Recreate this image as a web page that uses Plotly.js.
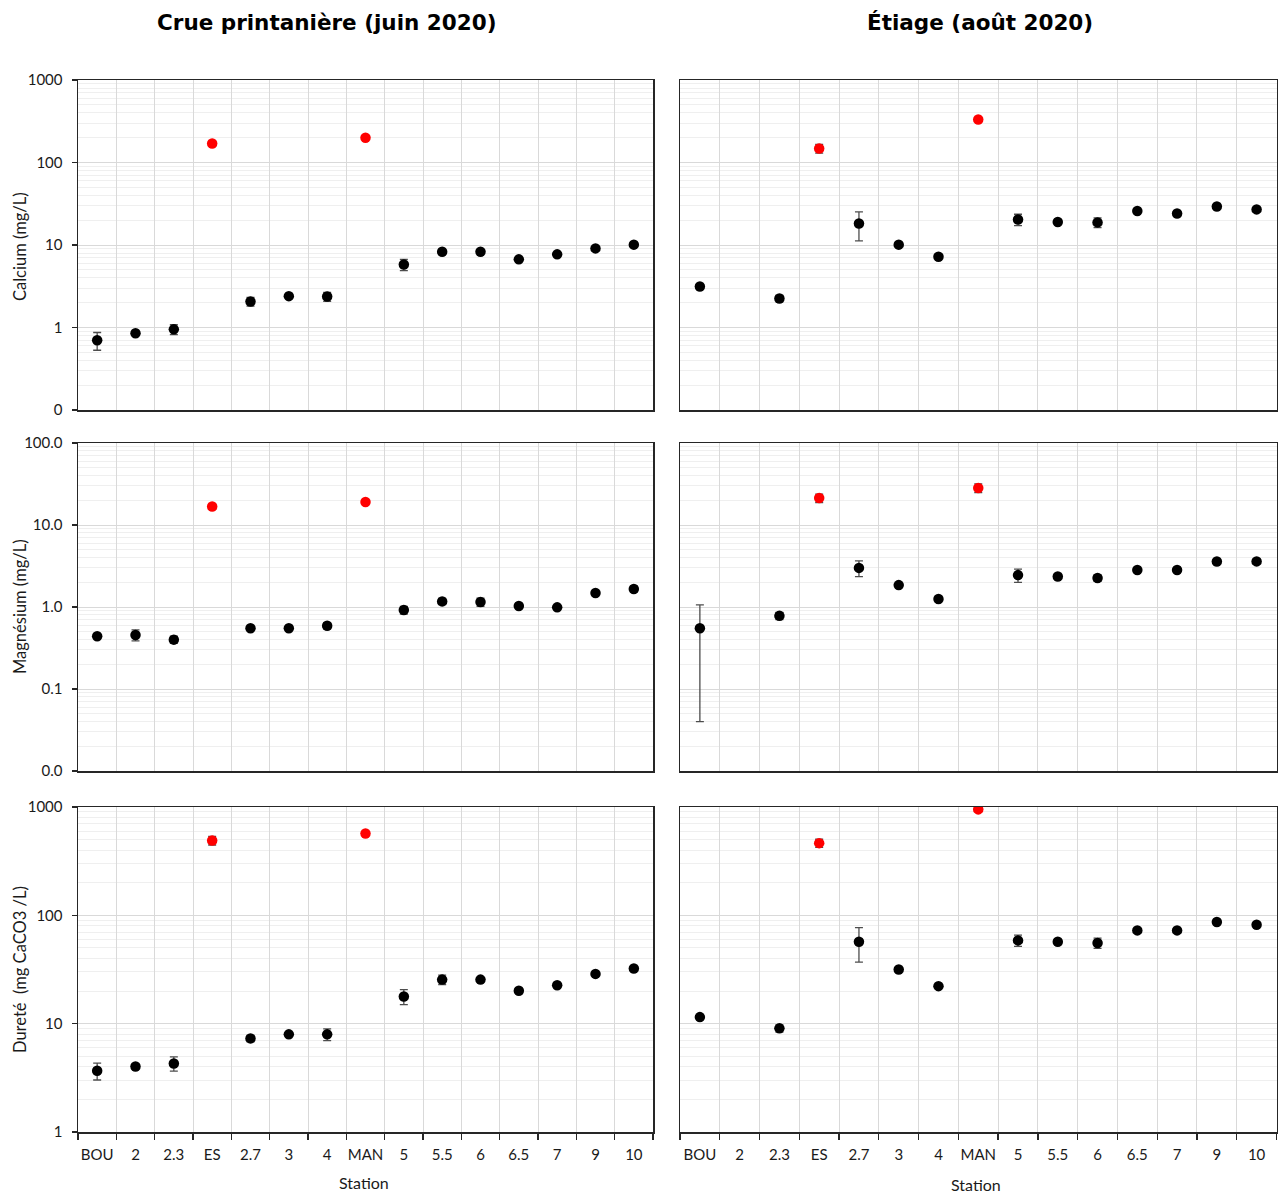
<!DOCTYPE html>
<html>
<head>
<meta charset="utf-8">
<script src="https://cdn.plot.ly/plotly-3.0.1.min.js"></script>
<style>html,body{margin:0;padding:0;background:#fff;}#chart{width:1278px;height:1193px;}</style>
</head>
<body>
<div id="chart"></div>
<script>
// ---- Data ----
const stations = ['BOU','2','2.3','ES','2.7','3','4','MAN','5','5.5','6','6.5','7','9','10'];
const highlight = ['ES','MAN'];

const caJuin    = [0.70,0.85,0.95,170,2.07,2.4,2.37,200,5.8,8.3,8.3,6.7,7.7,9.1,10.1];
const caJuinErr = [0.17,0.04,0.13,12,0.25,0.1,0.3,8,0.9,0.5,0.3,0.2,0.3,0.3,0.3];
const caAout    = [3.14,null,2.25,148,18.2,10.1,7.2,332,20.4,19.0,18.8,25.8,24.1,29.3,27.0];
const caAoutErr = [0.1,null,0.2,18,7,0.3,0.2,10,3.2,0.6,2.5,0.6,0.5,0.8,0.6];

const mgJuin    = [0.44,0.456,0.40,16.8,0.55,0.55,0.59,19.1,0.92,1.17,1.15,1.03,0.99,1.48,1.66];
const mgJuinErr = [0.02,0.07,0.04,1.2,0.02,0.02,0.05,1,0.1,0.1,0.13,0.05,0.03,0.05,0.13];
const mgAout    = [0.55,null,0.78,21.3,3.0,1.85,1.25,28.3,2.45,2.36,2.26,2.83,2.83,3.59,3.6];
const mgAoutErr = [0.51,null,0.08,2.5,0.65,0.05,0.05,3.5,0.45,0.15,0.2,0.1,0.1,0.12,0.25];

const duJuin    = [3.67,4.03,4.29,491,7.31,7.97,7.97,570,17.8,25.5,25.5,20.1,22.6,28.8,32.3];
const duJuinErr = [0.65,0.2,0.65,45,0.5,0.3,1.0,20,2.8,2.5,1,0.5,0.6,1,1];
const duAout    = [11.5,null,9.05,464,57,31.6,22.2,950,58.7,57,55.5,72.6,72.6,86.7,82];
const duAoutErr = [0.3,null,0.7,40,20,1,0.5,20,7,2,6,2,2,2,2];

const caTicks = [0.1,1,10,100,1000];
const caTickText = ['0','1','10','100','1000'];
const mgTicks = [0.01,0.1,1,10,100];
const mgTickText = ['0.0','0.1','1.0','10.0','100.0'];
const duTicks = [1,10,100,1000];
const duTickText = ['1','10','100','1000'];

const colTitles = ['Crue printanière (juin 2020)','Étiage (août 2020)'];
const rowTitles = ['Calcium (mg/L)','Magnésium (mg/L)','Dureté&nbsp;&nbsp;(mg CaCO3 /L)'];
const xTitle = 'Station';

// ---- Build ----
const FONT = 'Lato, "Open Sans", sans-serif';
const colors = stations.map(s => highlight.includes(s) ? '#ff0000' : '#000000');

const panels = [
  {y: caJuin, e: caJuinErr, n: 1},
  {y: caAout, e: caAoutErr, n: 2},
  {y: mgJuin, e: mgJuinErr, n: 3},
  {y: mgAout, e: mgAoutErr, n: 4},
  {y: duJuin, e: duJuinErr, n: 5},
  {y: duAout, e: duAoutErr, n: 6}
];

const traces = panels.map(p => ({
  type: 'scatter', mode: 'markers',
  x: stations, y: p.y,
  xaxis: 'x' + (p.n === 1 ? '' : p.n), yaxis: 'y' + (p.n === 1 ? '' : p.n),
  marker: {color: colors, size: 10.5},
  error_y: {type: 'data', array: p.e, visible: true, color: '#4d4d4d', thickness: 1.3, width: 4},
  showlegend: false, hoverinfo: 'x+y'
}));

function minorVals(lo, hi) {
  const v = [];
  for (let d = lo; d < hi; d++) for (let k = 2; k <= 9; k++) v.push(k * Math.pow(10, d));
  return v;
}

const W = 1278, H = 1193;
const colDom = [[78/W, 653/W], [680/W, 1276.5/W]];
const rowDom = [[1-410/H, 1-80/H], [1-771/H, 1-443/H], [1-1132/H, 1-807/H]];
const yConf = [
  {ticks: caTicks, text: caTickText, range: [-1, 3], minor: minorVals(-1, 3)},
  {ticks: mgTicks, text: mgTickText, range: [-2, 2], minor: minorVals(-2, 2)},
  {ticks: duTicks, text: duTickText, range: [0, 3], minor: minorVals(0, 3)}
];

const layout = {
  width: W, height: H,
  margin: {l: 0, r: 0, t: 0, b: 0},
  paper_bgcolor: '#ffffff', plot_bgcolor: '#ffffff',
  font: {family: FONT, size: 15, color: '#1a1a1a'},
  annotations: [], showlegend: false
};

for (let r = 0; r < 3; r++) {
  for (let c = 0; c < 2; c++) {
    const n = r * 2 + c + 1;
    const sfx = n === 1 ? '' : n;
    const bottom = r === 2;
    layout['xaxis' + sfx] = {
      domain: colDom[c], anchor: 'y' + sfx,
      type: 'category', categoryorder: 'array', categoryarray: stations,
      range: [-0.5, 14.5],
      tickson: 'boundaries', tickangle: 0, ticklabelstandoff: 8,
      showgrid: true, gridcolor: '#d9d9d9', gridwidth: 1,
      showline: true, mirror: true, linecolor: '#262626', linewidth: 1.5,
      ticks: bottom ? 'outside' : '', ticklen: 6, tickcolor: '#262626', tickwidth: 1.3,
      showticklabels: bottom,
      tickfont: {family: FONT, size: 15, color: '#1a1a1a'},
      zeroline: false, fixedrange: true
    };
    const yc = yConf[r];
    layout['yaxis' + sfx] = {
      domain: rowDom[r], anchor: 'x' + sfx,
      type: 'log', range: yc.range,
      tickmode: 'array', tickvals: yc.ticks, ticktext: yc.text, ticklabelstandoff: 6,
      showgrid: true, gridcolor: '#d9d9d9', gridwidth: 1,
      minor: {tickmode: 'array', tickvals: yc.minor, showgrid: true, gridcolor: '#efefef', gridwidth: 1, ticks: ''},
      showline: true, mirror: true, linecolor: '#262626', linewidth: 1.5,
      ticks: c === 0 ? 'outside' : '', ticklen: 5, tickcolor: '#262626', tickwidth: 1.3,
      showticklabels: c === 0,
      tickfont: {family: FONT, size: 15, color: '#1a1a1a'},
      zeroline: false, fixedrange: true
    };
  }
}

// Column titles
[327, 980].forEach((px, i) => layout.annotations.push({
  text: '<b>' + colTitles[i] + '</b>', xref: 'paper', yref: 'paper',
  x: px / W, y: 1 - 23 / H, xanchor: 'center', yanchor: 'middle', showarrow: false,
  font: {family: '"DejaVu Sans", Verdana, sans-serif', size: 21.5, color: '#000'}
}));
// Row titles
[247, 607, 970].forEach((py, i) => layout.annotations.push({
  text: rowTitles[i], xref: 'paper', yref: 'paper', textangle: -90,
  x: 20 / W, y: 1 - py / H, xanchor: 'center', yanchor: 'middle', showarrow: false,
  font: {family: FONT, size: 16.5, color: '#1a1a1a'}
}));
// X titles
[[364, 1182], [976, 1184]].forEach(p => layout.annotations.push({
  text: xTitle, xref: 'paper', yref: 'paper',
  x: p[0] / W, y: 1 - p[1] / H, xanchor: 'center', yanchor: 'middle', showarrow: false,
  font: {family: FONT, size: 16, color: '#1a1a1a'}
}));

Plotly.newPlot('chart', traces, layout, {displayModeBar: false, staticPlot: true});
</script>
</body>
</html>
